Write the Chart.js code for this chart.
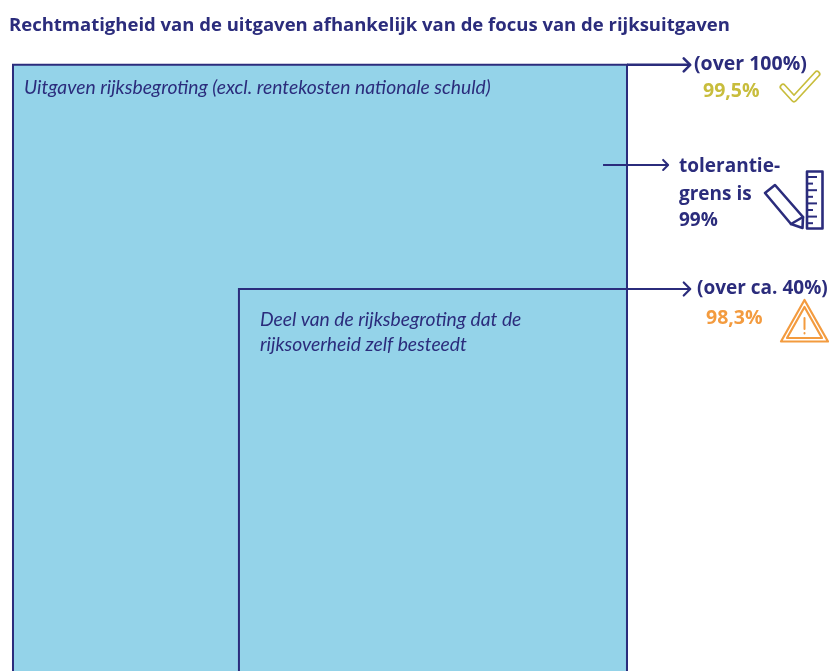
<!DOCTYPE html>
<html><head><meta charset="utf-8">
<style>html,body{margin:0;padding:0;background:#fff;overflow:hidden}canvas{display:block}</style>
<script src="https://cdn.jsdelivr.net/npm/chart.js@4"></script>
</head><body><canvas id="c" width="829" height="671"></canvas>
<script>
// Nested squares (share of budget): side lengths in % of the outer square
const titleText = 'Rechtmatigheid van de uitgaven afhankelijk van de focus van de rijksuitgaven';
const outerTopX = [0, 100];
const outerTopY = [100, 100];
const outerX = [0, 0, 100, 100, 0];
const outerY = [0, 100, 100, 0, 0];
const innerX = [36.8, 36.8, 100, 100, 36.8];
const innerY = [0, 63.5, 63.5, 0, 0];
const arrowTopX = [100, 110.3];
const arrowTopY = [100, 100];
const arrowTolX = [96.1, 106.7];
const arrowTolY = [83.7, 83.7];
const arrowLowX = [100, 110.3];
const arrowLowY = [63.5, 63.5];
const outerLabel = 'Uitgaven rijksbegroting (excl. rentekosten nationale schuld)';
const innerLabel = ['Deel van de rijksbegroting dat de', 'rijksoverheid zelf besteedt'];
const topLabel = ['(over 100%)', '99,5%'];
const tolLabel = ['tolerantie-', 'grens is', '99%'];
const lowLabel = ['(over ca. 40%)', '98,3%'];

const NAVY = '#2b2c7c', BLUE = '#94d3e9', OLIVE = '#c8bd3c', ORANGE = '#f39b3f';
const pts = (xs, ys) => xs.map((x, i) => ({x, y: ys[i]}));
const line = (xs, ys, w, extra) => Object.assign({
  data: pts(xs, ys), showLine: true, borderColor: NAVY, borderWidth: w,
  pointRadius: 0, tension: 0, fill: false, clip: false, borderCapStyle: 'butt'
}, extra || {});

const overlay = {
  id: 'overlay',
  afterDatasetsDraw(chart) {
    const c = chart.ctx;
    const txt = (s, x, y, font, col, sp) => {
      c.font = font; c.fillStyle = col; c.letterSpacing = (sp || 0) + 'px';
      c.textAlign = 'left'; c.textBaseline = 'alphabetic'; c.fillText(s, x, y);
      c.letterSpacing = '0px';
    };
    // arrow heads at the end of the arrow datasets
    c.save();
    c.lineCap = 'round'; c.lineJoin = 'round'; c.strokeStyle = NAVY;
    [[3, 2.6, 6.5], [4, 2, 5], [5, 2.2, 6.5]].forEach(([i, w, s]) => {
      const p = chart.getDatasetMeta(i).data[1];
      c.lineWidth = w;
      c.beginPath(); c.moveTo(p.x - s, p.y - s); c.lineTo(p.x, p.y); c.lineTo(p.x - s, p.y + s); c.stroke();
    });
    c.restore();

    c.save();
    const ital = 'italic 400 19.3px Lato, sans-serif';
    txt(outerLabel, 24, 94, ital, NAVY, 0);
    txt(innerLabel[0], 260, 326, ital, NAVY, 0);
    txt(innerLabel[1], 260, 351, ital, NAVY, 0);
    const bold = '700 19.5px "Open Sans", Lato, sans-serif';
    const bold2 = '700 19px "Open Sans", Lato, sans-serif';
    txt(topLabel[0], 694, 70, bold, NAVY, 0);
    txt(topLabel[1], 703, 97, bold, OLIVE, 0);
    txt(tolLabel[0], 679, 172, bold2, NAVY, 0);
    txt(tolLabel[1], 679, 200, bold2, NAVY, 0);
    txt(tolLabel[2], 679, 226, bold2, NAVY, 0);
    txt(lowLabel[0], 697, 294, bold2, NAVY, 0);
    txt(lowLabel[1], 706, 324, bold, ORANGE, 0);

    // check mark icon
    c.lineJoin = 'round'; c.lineCap = 'round';
    const chk = () => { c.beginPath(); c.moveTo(783, 87); c.lineTo(794, 99); c.lineTo(817, 74); c.stroke(); };
    c.strokeStyle = OLIVE; c.lineWidth = 7; chk();
    c.strokeStyle = '#fff'; c.lineWidth = 3.6; chk();

    // pencil icon
    c.strokeStyle = NAVY; c.lineWidth = 2.6; c.lineJoin = 'round';
    c.beginPath(); c.moveTo(775, 185); c.lineTo(803, 217); c.lineTo(802.5, 228); c.lineTo(791, 224); c.lineTo(765, 193); c.closePath(); c.stroke();
    c.beginPath(); c.moveTo(791, 224); c.lineTo(803, 217); c.stroke();
    // ruler icon
    c.lineWidth = 2.6; c.lineCap = 'butt';
    c.strokeRect(807, 171.5, 15.5, 57);
    c.lineWidth = 2;
    for (let k = 0; k < 8; k++) {
      const y = 177 + k * 6.6;
      c.beginPath(); c.moveTo(807, y); c.lineTo(k % 2 ? 813 : 817, y); c.stroke();
    }

    // warning icon
    c.strokeStyle = ORANGE; c.lineWidth = 2.2; c.lineJoin = 'round';
    c.beginPath(); c.moveTo(804.5, 300); c.lineTo(828, 341.5); c.lineTo(781, 341.5); c.closePath(); c.stroke();
    c.beginPath(); c.moveTo(804.5, 307); c.lineTo(822, 338); c.lineTo(787, 338); c.closePath(); c.stroke();
    c.lineWidth = 2; c.lineCap = 'round';
    c.beginPath(); c.moveTo(804.5, 318); c.lineTo(804.5, 329); c.moveTo(804.5, 333); c.lineTo(804.5, 333.5); c.stroke();
    c.restore();
  }
};

new Chart(document.getElementById('c'), {
  type: 'scatter',
  data: { datasets: [
    line(outerTopX, outerTopY, 0, { backgroundColor: BLUE, fill: 'start', clip: undefined }),
    line(outerX, outerY, 2, { borderJoinStyle: 'miter' }),
    line(innerX, innerY, 2),
    line(arrowTopX, arrowTopY, 2.6),
    line(arrowTolX, arrowTolY, 2),
    line(arrowLowX, arrowLowY, 2)
  ]},
  options: {
    responsive: false, animation: false,
    layout: { padding: { left: 9, right: 0, top: 0, bottom: 0 } },
    plugins: {
      legend: { display: false }, tooltip: { enabled: false },
      filler: { drawTime: 'beforeDatasetsDraw' },
      title: { display: true, text: titleText, align: 'start', color: NAVY,
        font: { family: '"Open Sans", Lato, sans-serif', size: 18.5, weight: '700', lineHeight: 1.2 },
        padding: { top: 15, bottom: 27 } }
    },
    scales: {
      x: { type: 'linear', display: false, min: -0.65, max: 132.9 },
      y: { type: 'linear', display: false, min: 1.3, max: 100.1 }
    }
  },
  plugins: [overlay]
});
</script></body></html>
